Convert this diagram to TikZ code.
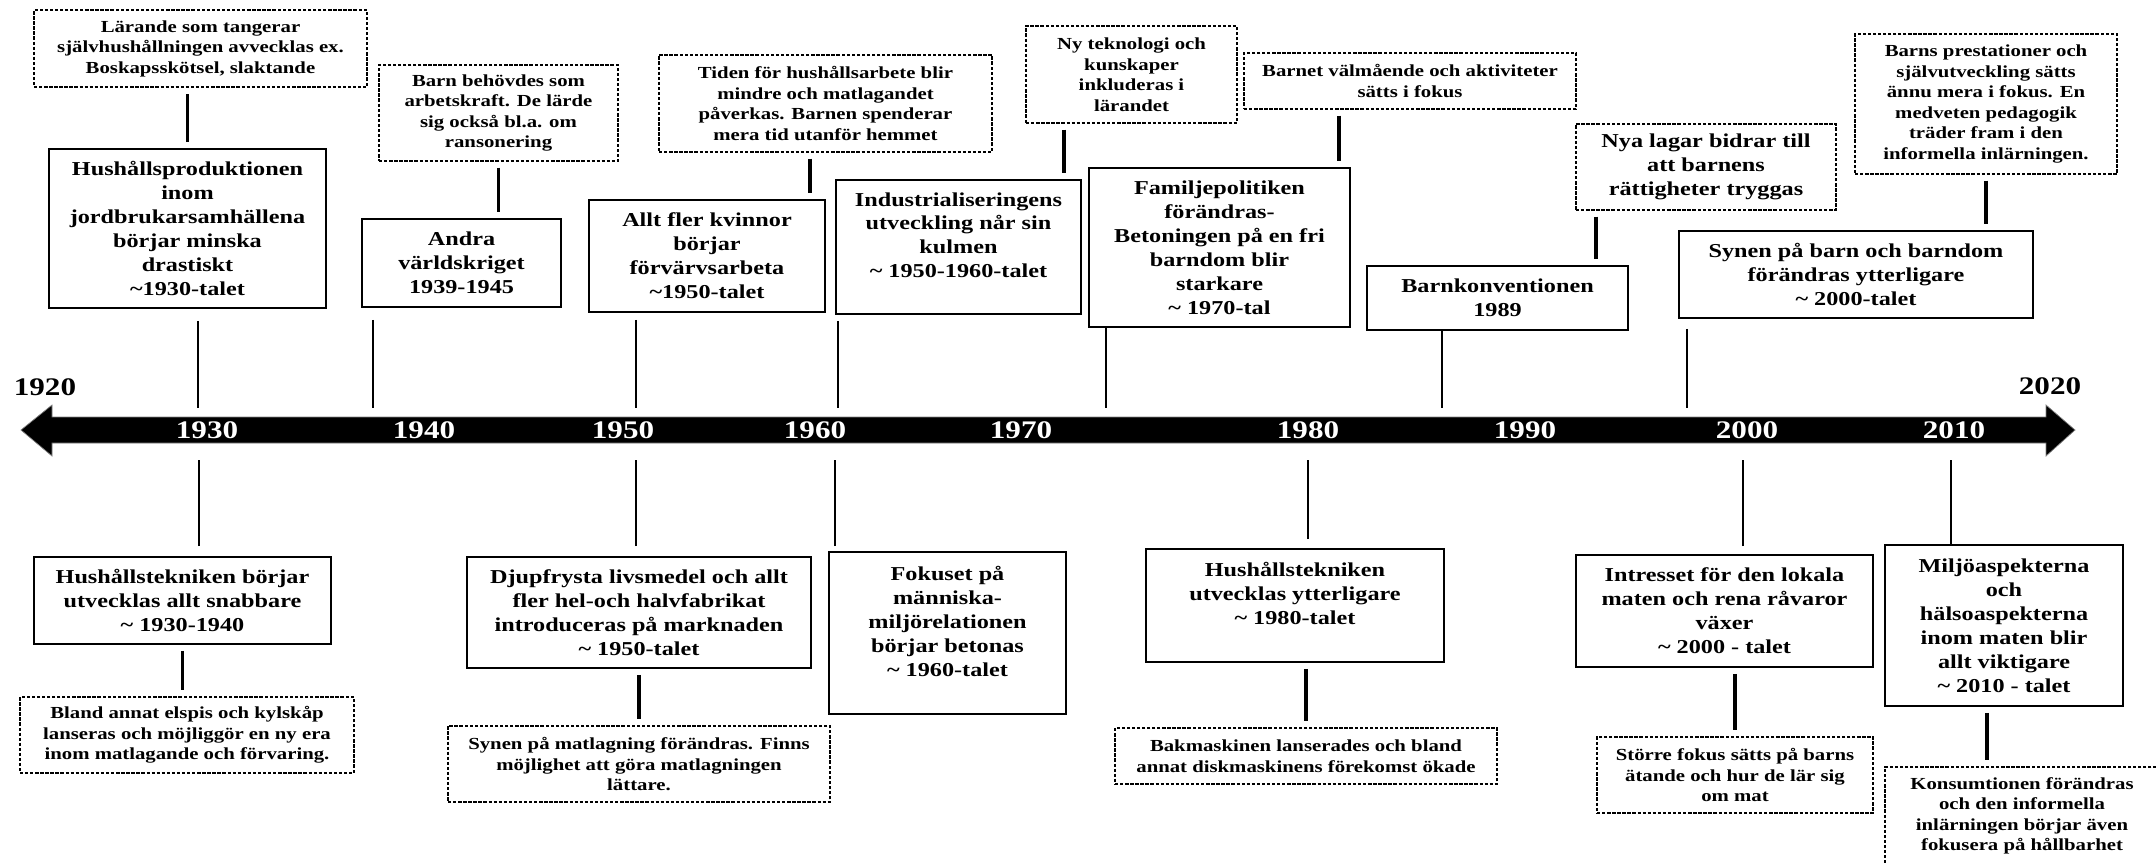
\documentclass[tikz,border=0pt]{standalone}
\usepackage{fontspec}
\setmainfont{Liberation Serif}[FakeStretch=1.23]
\tikzset{
	bigbox/.style={draw, line width=1.1pt, inner sep=0pt, align=center, font=\bfseries\fontsize{14}{17}\selectfont},
	notebox/.style={draw, line width=0.9pt, dash pattern=on 2.4pt off 1.2pt, inner sep=0pt, align=center, font=\bfseries\fontsize{12}{14.6}\selectfont},
	sz/.style 2 args={minimum width=#1*0.025cm, minimum height=#2*0.025cm},
	link/.style={line width=2.5pt, shorten <=0.15cm, shorten >=0.15cm},
	stem/.style={line width=2pt},
	yearlbl/.style={font=\bfseries\fontsize{18}{20}\selectfont, inner sep=0pt},
}
\begin{document}
\begin{tikzpicture}[x=0.025cm, y=-0.025cm]
			\useasboundingbox (0,0) rectangle (2156,863);
			% axis
			\filldraw[fill=black, draw=gray, line width=0.5pt] (21,430) -- (52,405) -- (52,417) -- (2046,417) -- (2046,405) -- (2075,430) -- (2046,456) -- (2046,443) -- (52,443) -- (52,456) -- cycle;
			\coordinate (axtop) at (0,408);
			\coordinate (axbot) at (0,460);
			\node[yearlbl] (y1920) at (45,387) {1920};
			\node[yearlbl] (y2020) at (2050,386) {2020};
			\foreach \x\y in {207/1930,424/1940,623/1950,815/1960,1021/1970,1308/1980,1525/1990,1747/2000,1954/2010}{
				\node[yearlbl, text=white] (y\y) at (\x,430) {\y};
			}
			% above the axis
			\node[notebox, sz={333}{77}] (d1) at (200.5,48.5) {Lärande som tangerar\\självhushållningen avvecklas ex.\\Boskapsskötsel, slaktande};
			\node[bigbox, sz={277}{159}] (b1) at (187.5,228.5) {Hushållsproduktionen\\inom\\jordbrukarsamhällena\\börjar minska\\drastiskt\\\textasciitilde1930-talet};
			\node[notebox, sz={239}{96}] (d2) at (498.5,113) {Barn behövdes som\\arbetskraft. De lärde\\sig också bl.a. om\\ransonering};
			\node[bigbox, sz={199}{88}] (b2) at (461.5,263) {Andra\\världskriget\\1939-1945};
			\node[notebox, sz={333}{97}] (d3) at (825.5,103.5) {Tiden för hushållsarbete blir\\mindre och matlagandet\\påverkas. Barnen spenderar\\mera tid utanför hemmet};
			\node[bigbox, sz={236}{112}] (b3) at (707,256) {Allt fler kvinnor\\börjar\\förvärvsarbeta\\\textasciitilde1950-talet};
			\node[notebox, sz={211}{97}] (d4) at (1131.5,74.5) {Ny teknologi och\\kunskaper\\inkluderas i\\lärandet};
			\node[bigbox, sz={245}{134}] (b4) at (958.5,247) {Industrialiseringens\\utveckling når sin\\kulmen\\\textasciitilde{} 1950-1960-talet\\\mbox{}};
			\node[notebox, sz={332}{56}] (d5) at (1410,81) {Barnet välmående och aktiviteter\\sätts i fokus};
			\node[bigbox, sz={261}{159}] (b5) at (1219.5,247.5) {Familjepolitiken\\förändras-\\Betoningen på en fri\\barndom blir\\starkare\\\textasciitilde{} 1970-tal};
			\node[notebox, sz={260}{86}, font=\bfseries\fontsize{14}{17}\selectfont] (d6) at (1706,167) {Nya lagar bidrar till\\att barnens\\rättigheter tryggas};
			\node[bigbox, sz={261}{64}] (b6) at (1497.5,298) {Barnkonventionen\\1989};
			\node[notebox, sz={262}{140}] (d7) at (1986,104) {Barns prestationer och\\självutveckling sätts\\ännu mera i fokus. En\\medveten pedagogik\\träder fram i den\\informella inlärningen.};
			\node[bigbox, sz={354}{87}] (b7) at (1856,274.5) {Synen på barn och barndom\\förändras ytterligare\\\textasciitilde{} 2000-talet};
			% below the axis
			\node[bigbox, sz={297}{87}] (b8) at (182.5,600.5) {Hushållstekniken börjar\\utvecklas allt snabbare\\\textasciitilde{} 1930-1940};
			\node[notebox, sz={334}{76}] (d8) at (187,735) {Bland annat elspis och kylskåp\\lanseras och möjliggör en ny era\\inom matlagande och förvaring.};
			\node[bigbox, sz={344}{111}] (b9) at (639,612.5) {Djupfrysta livsmedel och allt\\fler hel-och halvfabrikat\\introduceras på marknaden\\\textasciitilde{} 1950-talet};
			\node[notebox, sz={382}{76}] (d9) at (639,764) {Synen på matlagning förändras. Finns\\möjlighet att göra matlagningen\\lättare.};
			\node[bigbox, sz={237}{162}] (b10) at (947.5,633) {Fokuset på\\människa-\\miljörelationen\\börjar betonas\\\textasciitilde{} 1960-talet\\\mbox{}};
			\node[bigbox, sz={298}{113}] (b11) at (1295,605.5) {Hushållstekniken\\utvecklas ytterligare\\\textasciitilde{} 1980-talet\\\mbox{}};
			\node[notebox, sz={382}{56}] (d10) at (1306,756) {Bakmaskinen lanserades och bland\\annat diskmaskinens förekomst ökade};
			\node[bigbox, sz={297}{112}] (b12) at (1724.5,611) {Intresset för den lokala\\maten och rena råvaror\\växer\\\textasciitilde{} 2000 - talet};
			\node[notebox, sz={276}{76}] (d11) at (1735,775) {Större fokus sätts på barns\\ätande och hur de lär sig\\om mat};
			\node[bigbox, sz={238}{161}] (b13) at (2004,625.5) {Miljöaspekterna\\och\\hälsoaspekterna\\inom maten blir\\allt viktigare\\\textasciitilde{} 2010 - talet};
			\node[notebox, sz={274}{98}] (d12) at (2022,816) {Konsumtionen förändras\\och den informella\\inlärningen börjar även\\fokusera på hållbarhet};
			% connectors
			\draw[link] (b1.north) -- (b1.north |- d1.south);
			\draw[link] (d2.south) -- (d2.south |- b2.north);
			\draw[link] (810,0 |- d3.south) -- (810,0 |- b3.north);
			\draw[link] (1064,0 |- d4.south) -- (1064,0 |- b4.north);
			\draw[link] (1339,0 |- d5.south) -- (1339,0 |- b5.north);
			\draw[link] (1596,0 |- d6.south) -- (1596,0 |- b6.north);
			\draw[link] (d7.south) -- (d7.south |- b7.north);
			\draw[link] (b8.south) -- (b8.south |- d8.north);
			\draw[link] (b9.south) -- (b9.south |- d9.north);
			\draw[link] (d10.north |- b11.south) -- (d10.north);
			\draw[link] (d11.north |- b12.south) -- (d11.north);
			\draw[link] (1987,0 |- b13.south) -- (1987,0 |- d12.north);
			\foreach \x\b\g in {198/b1/12,373/b2/12,636/b3/7,838/b4/6,1106/b5/0,1442/b6/0,1687/b7/10}{
				\draw[stem, shorten <=\g*0.025cm] (\x,0 |- \b.south) -- (\x,0 |- axtop);
			}
			\foreach \x\b\g in {199/b8/10,636/b9/10,835/b10/5,1308/b11/9,1743/b12/8,1951/b13/0}{
				\draw[stem, shorten <=\g*0.025cm] (\x,0 |- \b.north) -- (\x,0 |- axbot);
			}
		\end{tikzpicture}
\end{document}
